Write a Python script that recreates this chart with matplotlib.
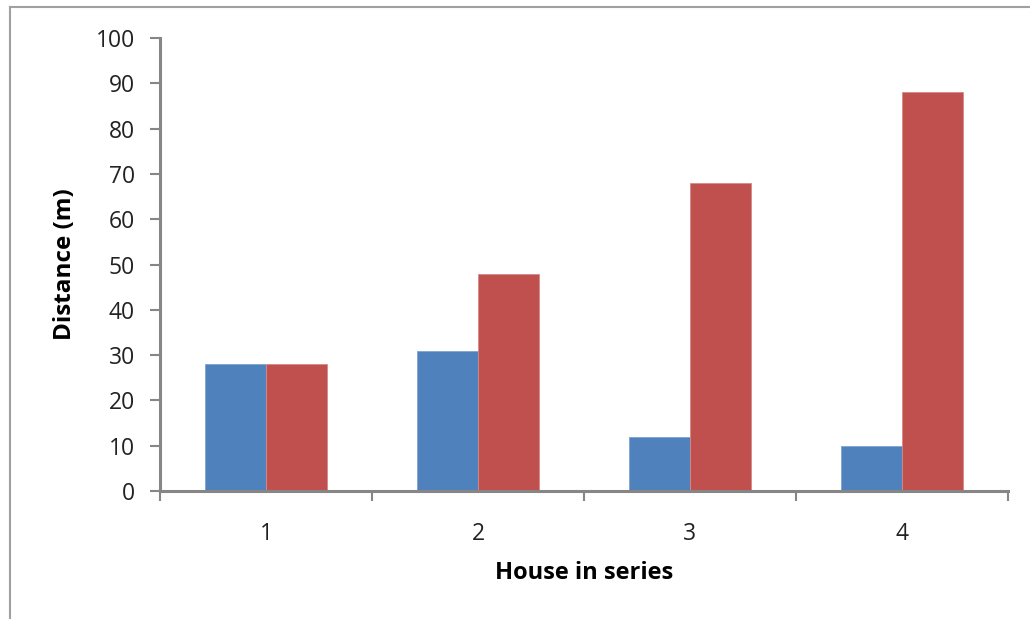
import matplotlib
matplotlib.use("Agg")
import matplotlib.pyplot as plt
import numpy as np
from matplotlib.lines import Line2D

categories = ["1", "2", "3", "4"]
series_a = [28, 31, 12, 10]
series_b = [28, 48, 68, 88]
y_ticks = [0, 10, 20, 30, 40, 50, 60, 70, 80, 90, 100]

W, H = 1030, 619
fig = plt.figure(figsize=(W / 100, H / 100), dpi=100)
plt.rcParams['font.family'] = ['Open Sans', 'DejaVu Sans']

# axes placement in pixels
x0, x1 = 160, 1008
y_top, y_bot = 38, 491
ax = fig.add_axes([x0 / W, 1 - y_bot / H, (x1 - x0) / W, (y_bot - y_top) / H])

x = np.arange(len(categories))
bw = 122 / 212 / 2
ax.bar(x - bw / 2, series_a, width=bw, color="#4F81BD", edgecolor="#7FA3D0", linewidth=0.6)
ax.bar(x + bw / 2, series_b, width=bw, color="#C0504D", edgecolor="#D48A88", linewidth=0.6)

ax.set_xlim(-0.5, len(categories) - 0.5)
ax.set_ylim(0, 100)
ax.set_yticks(y_ticks)
ax.set_yticklabels([str(t) for t in y_ticks])
ax.set_xticks(x)
ax.set_xticklabels(categories)
ax.set_xticks(np.arange(len(categories) + 1) - 0.5, minor=True)

for s in ["top", "right"]:
    ax.spines[s].set_visible(False)
for s in ["left", "bottom"]:
    ax.spines[s].set_color("#868686")
    ax.spines[s].set_linewidth(2.2)

ax.tick_params(axis="y", length=7, width=1.5, color="#868686", labelsize=16.5, pad=11, labelcolor="#222222")
ax.tick_params(axis="x", which="major", length=0, labelsize=16.5, pad=22, labelcolor="#222222")
ax.tick_params(axis="x", which="minor", length=7, width=1.5, color="#868686")

ax.set_ylabel("Distance (m)", fontsize=17.5, fontweight="bold")
ax.set_xlabel("House in series", fontsize=17, fontweight="bold")
ax.yaxis.set_label_coords((65 - x0) / (x1 - x0), 0.5)
ax.xaxis.set_label_coords(0.5, -(573 - y_bot) / (y_bot - y_top))
ax.yaxis.label.set_verticalalignment("center")
ax.xaxis.label.set_verticalalignment("center")

# outer chart border (partially visible)
fig.add_artist(Line2D([10 / W, 10 / W], [0, 1 - 7 / H], color="#A0A0A0", linewidth=1.5, transform=fig.transFigure))
fig.add_artist(Line2D([10 / W, 1], [1 - 7 / H, 1 - 7 / H], color="#A0A0A0", linewidth=1.5, transform=fig.transFigure))

fig.savefig("out.png", dpi=100)
